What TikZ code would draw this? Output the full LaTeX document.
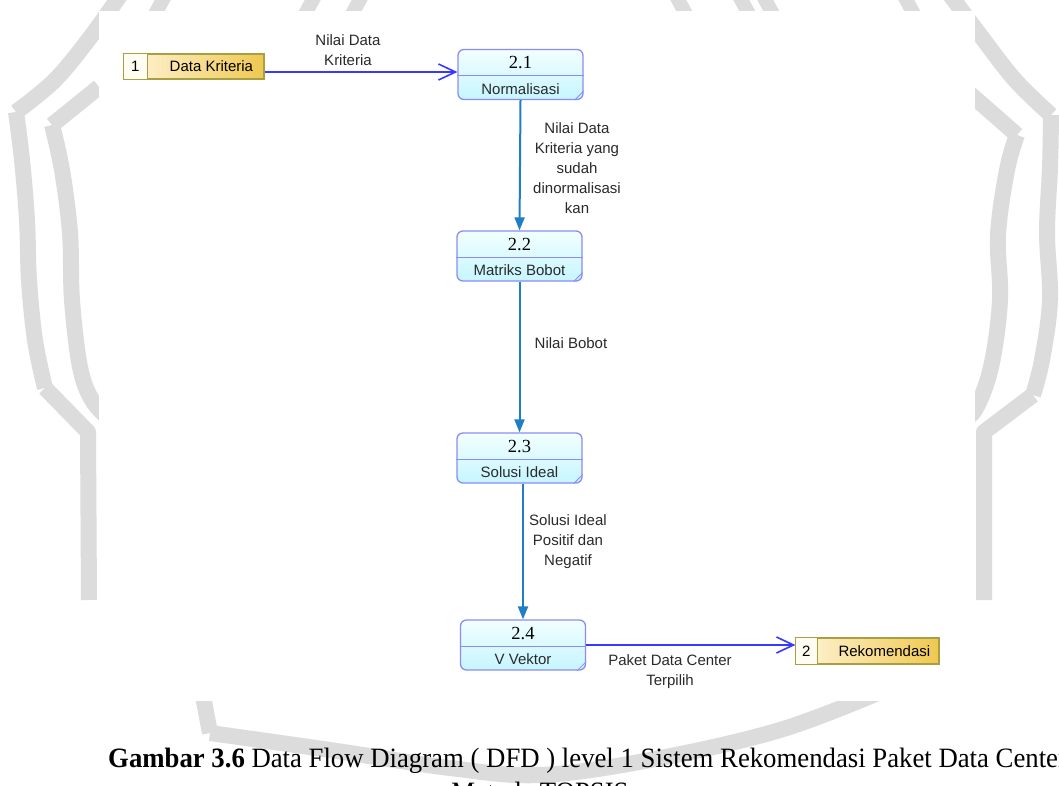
\documentclass[tikz,border=0pt]{standalone}
\usepackage{fontspec}
\setmainfont{Liberation Serif}
\newfontfamily\dfdsans{Liberation Sans}
\usetikzlibrary{arrows.meta,calc}
\definecolor{wmgray}{HTML}{DCDCDC}
\definecolor{procedge}{HTML}{8C8CF5}
\definecolor{proctop}{HTML}{F2FFFF}
\definecolor{procbot}{HTML}{C6F5FF}
\definecolor{storeedge}{HTML}{A8A040}
\definecolor{storeleft}{HTML}{FFF5DA}
\definecolor{storeright}{HTML}{F0C850}
\definecolor{storecell}{HTML}{FFFDF2}
\definecolor{flowblue}{HTML}{3838FF}
\definecolor{flowsteel}{HTML}{1F7FC4}
\definecolor{labeltext}{HTML}{2A2A2A}

\begin{document}
\begin{tikzpicture}[x=1pt,y=-1pt,
  band/.style={draw=wmgray,line width=16pt,line join=round,line cap=butt},
  proc/.style={draw=procedge,line width=1.3pt,rounded corners=6pt,
    top color=proctop,bottom color=procbot,
    minimum width=125pt,minimum height=50pt,inner sep=0pt},
  procrule/.style={draw=procedge,line width=1.2pt},
  procfold/.style={draw=procedge,line width=0.8pt},
  pnum/.style={font=\fontsize{18.5}{20}\selectfont,text=black,inner sep=0pt},
  pname/.style={font=\dfdsans\fontsize{15}{18}\selectfont,text=labeltext,inner sep=0pt},
  store/.style={draw=storeedge,line width=1.3pt,left color=storeleft,right color=storeright,
    minimum height=25pt,inner sep=0pt},
  storerule/.style={draw=storeedge,line width=1.2pt},
  flowlabel/.style={font=\dfdsans\fontsize{15}{20}\selectfont,text=labeltext,
    align=center,inner sep=0pt},
  flowext/.style={draw=flowblue,line width=2pt,-{Straight Barb[length=17pt,width=16pt,line width=1.6pt]}},
  flowint/.style={draw=flowsteel,line width=2pt,-{Triangle[length=13pt,width=10pt]}},
]
\useasboundingbox (0,0) rectangle (1059,786);
\clip (0,0) rectangle (1059,786);
\fill[white] (0,0) rectangle (1059,786);

% shield outline behind the figure
\draw[band] plot[smooth,tension=0.6] coordinates {(125,-12) (92,35) (55,80) (16,112)};
\draw[band] plot[smooth,tension=0.6] coordinates {(16,112) (22,160) (27,220) (29,280) (35,340) (45,388)};
\draw[band] (45,388) -- (88,432) -- (89,600);
\draw[band] plot[smooth,tension=0.6] coordinates {(99,87) (52,125)};
\draw[band] plot[smooth,tension=0.6] coordinates {(52,125) (62,170) (70,233) (72,300) (80,367) (92,400) (110,420)};
\draw[band] plot[smooth,tension=0.6] coordinates {(945,-12) (980,35) (1015,80) (1051,115)};
\draw[band] plot[smooth,tension=0.6] coordinates {(1051,115) (1050,167) (1047,233) (1050,300) (1042,360) (1033,395)};
\draw[band] (1033,395) -- (984,432) -- (984,600);
\draw[band] plot[smooth,tension=0.6] coordinates {(960,85) (1017,135)};
\draw[band] plot[smooth,tension=0.6] coordinates {(1017,135) (1007,170) (998,235) (1000,300) (991,367) (975,410) (960,420)};
\draw[band] (200,680) -- (210,733);
\draw[band] plot[smooth,tension=0.6] coordinates {(210,733) (330,750) (450,768) (540,775) (650,760) (780,730) (885,690)};
\foreach \c in {158,308,355} \draw[band,line width=14pt] (\c+8,-6) -- (\c-4,16);
\foreach \c in {683,746,770,911} \draw[band,line width=14pt] (\c-8,-6) -- (\c+4,16);

% white sheet carrying the diagram
\fill[white] (99,11) rectangle (975,701);

% processes
\node[proc] (p1) at (520.5,74.5) {};
\node[proc] (p2) at (519.5,256) {};
\node[proc] (p3) at (519.5,458) {};
\node[proc] (p4) at (523,645) {};
\foreach \p/\n/\t in {p1/2.1/Normalisasi,p2/2.2/Matriks Bobot,p3/2.3/Solusi Ideal,p4/2.4/V Vektor}{
  \draw[procrule] ($(\p.north west)+(0,27)$) -- ($(\p.north east)+(0,27)$);
  \draw[procfold] ($(\p.south east)+(-9,0)$) -- ($(\p.south east)+(0,-9)$);
  \node[pnum] (\p num) at ($(\p.north)+(0,14)$) {\n};
  \node[pname] (\p name) at ($(\p.south)+(0,-11.5)$) {\t};
}

% data stores
\node[store,minimum width=140pt] (s1) at (194,66.5) {};
\fill[storecell] ($(s1.north west)+(0.7,0.7)$) rectangle ($(s1.south west)+(24,-0.7)$);
\draw[storerule] ($(s1.north west)+(24,0)$) -- ($(s1.south west)+(24,0)$);
\node[pname,text=black] (s1num) at ($(s1.west)+(12,0)$) {1};
\node[pname,text=black] (s1name) at ($(s1.west)+(88,0)$) {Data Kriteria};

\node[store,minimum width=143pt,minimum height=26pt] (s2) at (867.5,651) {};
\fill[storecell] ($(s2.north west)+(0.7,0.7)$) rectangle ($(s2.south west)+(22,-0.7)$);
\draw[storerule] ($(s2.north west)+(22,0)$) -- ($(s2.south west)+(22,0)$);
\node[pname,text=black] (s2num) at ($(s2.west)+(11,0)$) {2};
\node[pname,text=black] (s2name) at ($(s2.west)+(89,0)$) {Rekomendasi};

% data flows
\draw[flowext] (s1.east |- 0,72) -- (p1.west |- 0,72);
\draw[flowint] (p1.south) -- (p2.north);
\draw[flowint] (p2.south) -- (p3.north);
\draw[flowint] (p3.south -| p4.north) -- (p4.north);
\draw[flowext] (p4.east |- 0,645) -- (s2.west |- 0,645);

% flow labels
\node[flowlabel] (f1) at (348,50) {Nilai Data\\Kriteria};
\node[flowlabel] (f2) at (577,168) {Nilai Data\\Kriteria yang\\sudah\\dinormalisasi\\kan};
\node[flowlabel] (f3) at (571,343) {Nilai Bobot};
\node[flowlabel] (f4) at (568,542) {Solusi Ideal\\Positif dan\\Negatif};
\node[flowlabel] (f5) at (670,672) {Paket Data Center\\Terpilih};

% caption
\node[anchor=base west,inner sep=0pt] (cap1) at (108,767)
  {\scalebox{0.955}[1]{\fontsize{28}{34}\selectfont\textbf{Gambar 3.6} Data Flow Diagram ( DFD ) level 1 Sistem Rekomendasi Paket Data Center}};
\node[anchor=base,inner sep=0pt] (cap2) at (540,801)
  {\scalebox{0.955}[1]{\fontsize{28}{34}\selectfont Metode TOPSIS}};
\end{tikzpicture}
\end{document}
